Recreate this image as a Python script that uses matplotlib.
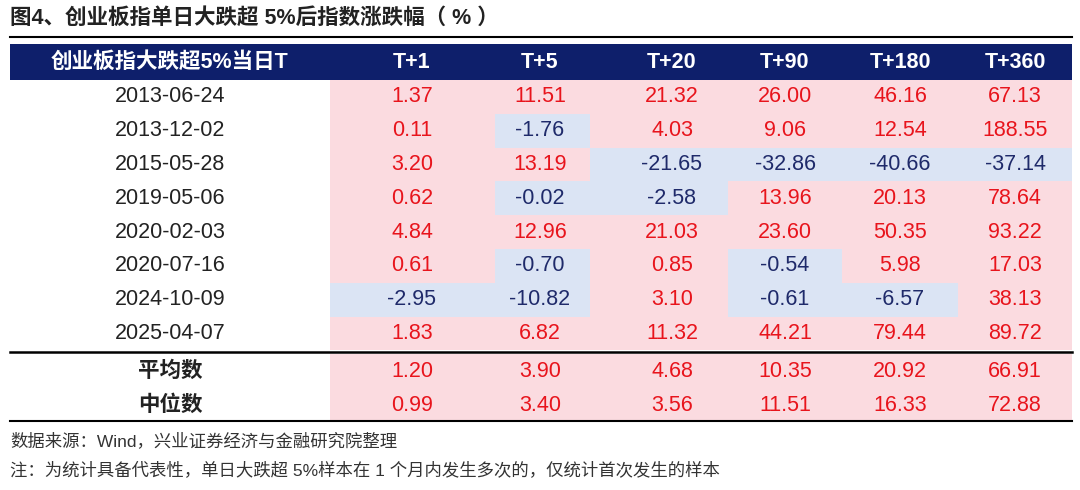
import matplotlib.pyplot as plt
import numpy as np

plt.rcParams['font.family'] = ['Liberation Sans', 'Noto Sans CJK SC', 'DejaVu Sans']

title = "图4、创业板指单日大跌超 5%后指数涨跌幅（ % ）"
header = ["创业板指大跌超5%当日T", "T+1", "T+5", "T+20", "T+90", "T+180", "T+360"]
dates = ["2013-06-24", "2013-12-02", "2015-05-28", "2019-05-06",
         "2020-02-03", "2020-07-16", "2024-10-09", "2025-04-07"]
values = [
    [1.37, 11.51, 21.32, 26.00, 46.16, 67.13],
    [0.11, -1.76, 4.03, 9.06, 12.54, 188.55],
    [3.20, 13.19, -21.65, -32.86, -40.66, -37.14],
    [0.62, -0.02, -2.58, 13.96, 20.13, 78.64],
    [4.84, 12.96, 21.03, 23.60, 50.35, 93.22],
    [0.61, -0.70, 0.85, -0.54, 5.98, 17.03],
    [-2.95, -10.82, 3.10, -0.61, -6.57, 38.13],
    [1.83, 6.82, 11.32, 44.21, 79.44, 89.72],
]
stat_labels = ["平均数", "中位数"]
stat_values = [
    [1.20, 3.90, 4.68, 10.35, 20.92, 66.91],
    [0.99, 3.40, 3.56, 11.51, 16.33, 72.88],
]
source = "数据来源：Wind，兴业证券经济与金融研究院整理"
note = "注：为统计具备代表性，单日大跌超 5%样本在 1 个月内发生多次的，仅统计首次发生的样本"

W, H = 1080, 490
fig = plt.figure(figsize=(W / 100, H / 100), dpi=100)
ax = fig.add_axes([0, 0, 1, 1])
ax.set_xlim(0, W)
ax.set_ylim(H, 0)
ax.axis("off")

NAVY = "#0e1f6b"
PINK = "#fbdbe0"
BLUE = "#dbe4f4"
RED = "#e8141c"
DARK = "#1f2a6a"

col_edges = [10, 330, 495, 590, 728, 842, 958, 1072]
col_centers = [170, 412, 540, 672, 785, 900, 1015]

ax.text(10, 18, title, fontsize=15.5, fontweight="bold", va="center", ha="left", color="#222222")
ax.plot([10, 1072], [37, 37], color="black", lw=1.5)

# header band
ax.add_patch(plt.Rectangle((10, 44), 1062, 36, color=NAVY, lw=0))
for c, h in zip(col_centers, header):
    ax.text(c, 62, h, color="white", fontsize=15.5, fontweight="bold", ha="center", va="center")

row_h = 33.8
y0 = 80
all_rows = [(d, v, False) for d, v in zip(dates, values)] + \
           [(s, v, True) for s, v in zip(stat_labels, stat_values)]
for i, (lab, vals, bold) in enumerate(all_rows):
    top = y0 + i * row_h + (4 if bold else 0)
    cy = top + row_h / 2
    ax.text(col_centers[0], cy, lab, fontsize=15.5, ha="center", va="center",
            color="#222222", fontweight="bold" if bold else "normal")
    for j, v in enumerate(vals):
        x0, x1 = col_edges[j + 1], col_edges[j + 2]
        ax.add_patch(plt.Rectangle((x0, top), x1 - x0, row_h,
                                   color=PINK if v >= 0 else BLUE, lw=0))
        ax.text(col_centers[j + 1], cy, f"{v:.2f}", fontsize=15.5, ha="center",
                va="center", color=RED if v >= 0 else DARK)

ax.plot([10, 1072], [352, 352], color="black", lw=1.8)
ax.plot([10, 1072], [421, 421], color="black", lw=1.5)

ax.text(10, 441, source, fontsize=12.5, ha="left", va="center", color="#333333")
ax.text(10, 470, note, fontsize=12.5, ha="left", va="center", color="#333333")

fig.savefig("out.png", dpi=100)
